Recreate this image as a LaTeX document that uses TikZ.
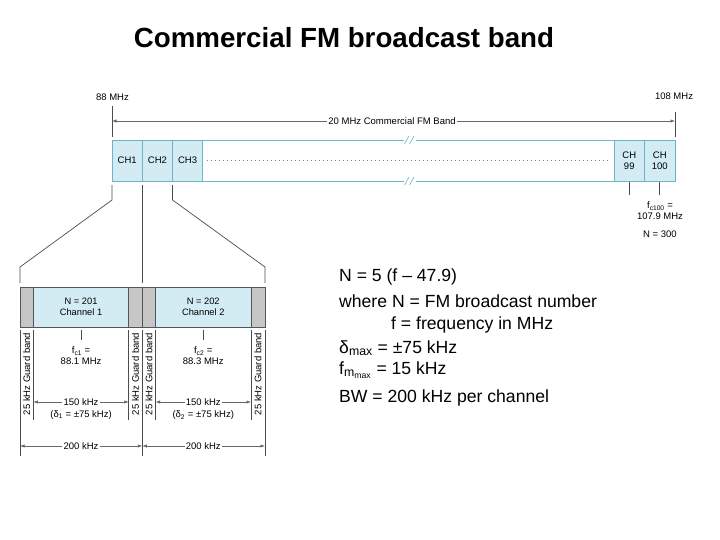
\documentclass[tikz,border=0pt]{standalone}
\usepackage{fontspec}
\setmainfont{Liberation Sans}
\usetikzlibrary{arrows.meta}
\definecolor{cellblue}{HTML}{D3ECF4}
\definecolor{bandline}{HTML}{6DB6C6}
\definecolor{guardgray}{HTML}{C6C6C6}
\definecolor{boxline}{HTML}{555555}

\begin{document}
\begin{tikzpicture}[x=1pt,y=-1pt,
		lbl/.style={font=\fontsize{9.5}{11}\selectfont, inner sep=1pt},
		cell/.style={draw=bandline, fill=cellblue, line width=0.8pt, minimum height=41, inner sep=0pt, outer sep=0pt, anchor=north west, align=center, font=\fontsize{9.5}{11}\selectfont},
		guard/.style={draw=boxline, fill=guardgray, line width=0.8pt, minimum height=40, inner sep=0pt, outer sep=0pt, anchor=north west},
		chan/.style={draw=boxline, fill=cellblue, line width=0.8pt, minimum height=40, inner sep=0pt, outer sep=0pt, anchor=north west, align=center, font=\fontsize{9.3}{11}\selectfont},
		tick/.style={line width=0.7pt, draw=black!70},
		dim/.style={line width=0.5pt, draw=black!60, -{Latex[length=4.5pt,width=3.2pt]}},
		txt/.style={font=\fontsize{17.6}{20}\selectfont, inner sep=0pt, anchor=west}]
				\useasboundingbox (0,0) rectangle (720,540);
				\node[font=\bfseries\fontsize{27.7}{32}\selectfont] (title) at (344,38) {Commercial FM broadcast band};
				\node[draw=bandline, line width=0.8pt, minimum width=563, minimum height=41, inner sep=0pt, outer sep=0pt, anchor=north west] (band) at (112,140) {};
				\node[cell, minimum width=30.3] (ch1) at (112,140) {CH1};
				\node[cell, minimum width=30.2] (ch2) at (ch1.north east) {CH2};
				\node[cell, minimum width=30.2] (ch3) at (ch2.north east) {CH3};
				\node[cell, minimum width=30.5] (ch99) at (614,140) {CH\\99};
				\node[cell, minimum width=30.5] (ch100) at (ch99.north east) {CH\\100};
				\draw[gray, line width=0.6pt, dash pattern=on 0.9pt off 3.1pt] ([xshift=4]ch3.east) -- ([xshift=-4]ch99.west);
				\foreach \y in {140,181} {
					\fill[white] (404,\y-3) rectangle (416,\y+3);
					\draw[bandline, line width=0.6pt] (404.5,\y+4) -- (409,\y-4) (409.5,\y+4) -- (414,\y-4);
				}
				\node[lbl] (lo) at (112.5,97) {88 MHz};
				\node[lbl] (hi) at (674,96) {108 MHz};
				\draw[tick] ([yshift=3]band.north west) -- ([yshift=34]band.north west);
				\draw[tick] ([yshift=3]band.north east) -- ([yshift=28]band.north east);
				\node[lbl] (bandlbl) at (392,121) {20 MHz Commercial FM Band};
				\coordinate (lotick) at (band.north west |- bandlbl);
				\coordinate (hitick) at (band.north east |- bandlbl);
				\draw[dim] (bandlbl.west) -- (lotick);
				\draw[dim] (bandlbl.east) -- (hitick);
				\draw[tick] ([yshift=-1]ch99.south) -- ([yshift=-14]ch99.south);
				\draw[tick] ([yshift=-1]ch100.south) -- ([yshift=-14]ch100.south);
				\node[lbl, align=center] (fc100) at (660,211) {f\textsubscript{c100} =\\107.9 MHz};
				\node[lbl] (n300) at (660,234) {N = 300};
				\node[guard, minimum width=13.3] (g1a) at (20,287) {};
				\node[chan, minimum width=95.5] (c1) at (g1a.north east) {N = 201\\Channel 1};
				\node[guard, minimum width=13.5] (g1b) at (c1.north east) {};
				\node[guard, minimum width=13.2] (g2a) at (g1b.north east) {};
				\node[chan, minimum width=95.5] (c2) at (g2a.north east) {N = 202\\Channel 2};
				\node[guard, minimum width=14] (g2b) at (c2.north east) {};
				\draw[tick] ([yshift=-4]ch1.south west) -- ([yshift=-19]ch1.south west) -- ([yshift=20]g1a.north west) -- ([yshift=4]g1a.north west);
				\draw[tick] ([yshift=-4]ch2.south west) -- ([yshift=4]g2a.north west);
				\draw[tick] ([yshift=-4]ch3.south west) -- ([yshift=-19]ch3.south west) -- ([yshift=20]g2b.north east) -- ([yshift=4]g2b.north east);
				\foreach \a in {g1a.south west, g1b.south east, g2b.south east}
					\draw[tick] ([yshift=-3]\a) -- ([yshift=-129]\a);
				\foreach \a in {g1a.south east, g1b.south west, g2a.south east, g2b.south west}
					\draw[tick] ([yshift=-3]\a) -- ([yshift=-93]\a);
				\foreach \g in {g1a,g1b,g2a,g2b}
					\node[lbl, rotate=90] at ([yshift=-47]\g.south) {25 kHz Guard band};
				\foreach \i/\l/\r/\f in {1/g1a/g1b/88.1, 2/g2a/g2b/88.3} {
					\draw[tick] ([yshift=-3]c\i.south) -- ([yshift=-13]c\i.south);
					\node[lbl, align=center] (fc\i) at ([yshift=-29]c\i.south) {f\textsubscript{c\i} =\\\f\ MHz};
					\node[lbl] (bw\i) at ([yshift=-75]c\i.south) {150 kHz};
					\draw[dim] (bw\i.west) -- (bw\i.west -| \l.east);
					\draw[dim] (bw\i.east) -- (bw\i.east -| \r.west);
					\node[lbl] (dev\i) at ([yshift=-88]c\i.south) {(δ\textsubscript{\i} = ±75 kHz)};
					\node[lbl] (w\i) at ([yshift=-119]c\i.south) {200 kHz};
					\draw[dim] (w\i.west) -- (w\i.west -| \l.west);
					\draw[dim] (w\i.east) -- (w\i.east -| \r.east);
				}
				\node[txt] (eq1) at (339,277) {N = 5 (f – 47.9)};
				\node[txt] (eq2) at (339,301) {where N = FM broadcast number};
				\node[txt] (eq3) at (391,325) {f = frequency in MHz};
				\node[txt] (eq4) at (339,348) {δ\textsubscript{max} = ±75 kHz};
				\node[txt] (eq5) at (339,370) {f\textsubscript{m\textsubscript{max}} = 15 kHz};
				\node[txt] (eq6) at (339,398) {BW = 200 kHz per channel};
		\end{tikzpicture}
\end{document}
